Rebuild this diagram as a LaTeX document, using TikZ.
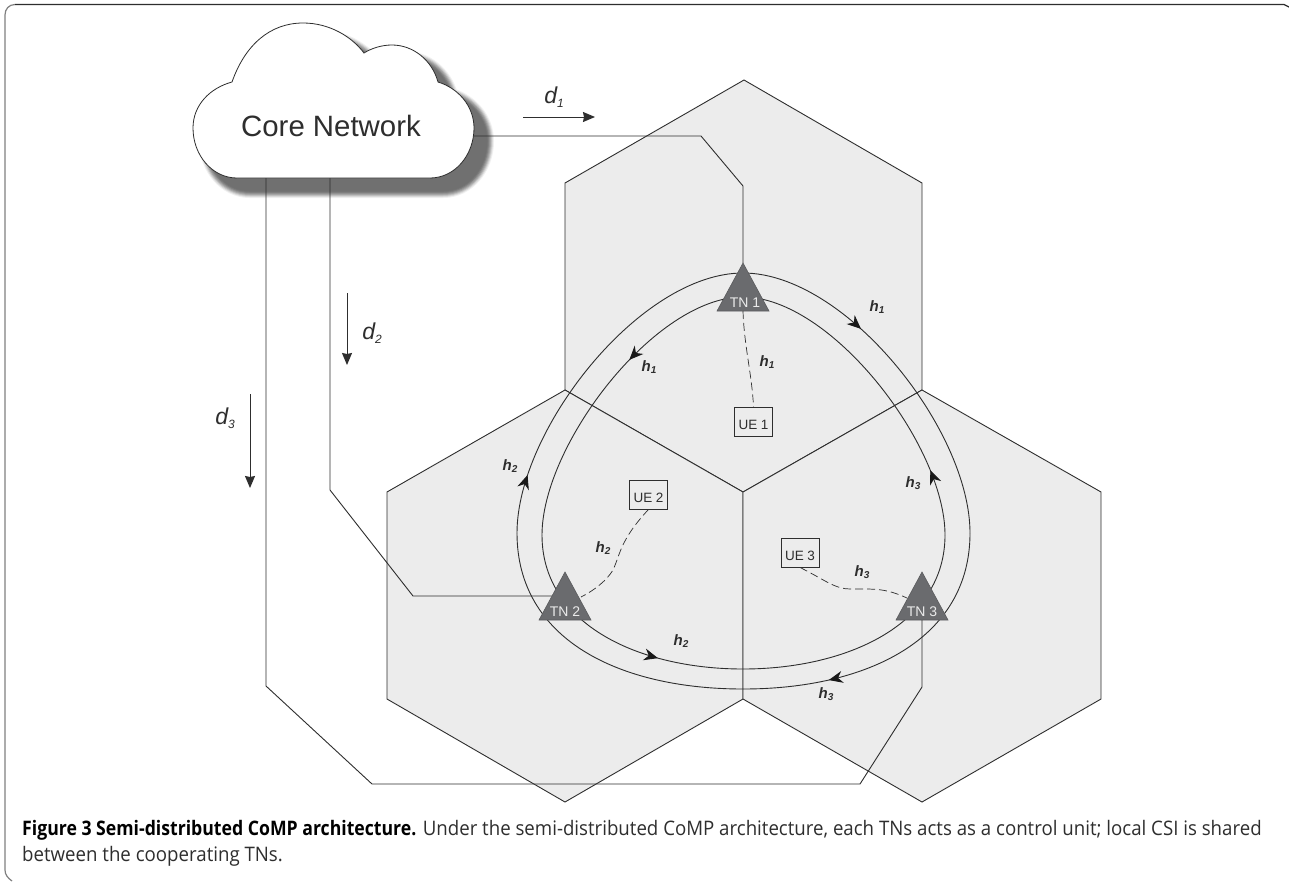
\documentclass[tikz,border=0pt]{standalone}
\usepackage{fontspec}
\setmainfont{Liberation Sans}
\newfontfamily\capfont[FakeStretch=0.933]{Open Sans}
\newfontfamily\capbold[FakeStretch=0.883]{Open Sans Bold}
\usetikzlibrary{arrows.meta,decorations.markings}
\definecolor{hexfill}{HTML}{ECECEC}
\definecolor{linec}{HTML}{2E2E2E}
\definecolor{trifill}{HTML}{6A6B6E}
\newcommand\hlab[1]{h\raisebox{-2.5pt}{\fontsize{10}{10}\selectfont #1}}
\newcommand\dlab[1]{d\raisebox{-3.5pt}{\fontsize{12}{12}\selectfont #1}}
\def\cloudpath{(232,82) .. controls (245,45) and (270,23) .. (303,23) .. controls (330,23) and (352,37) .. (364,53) .. controls (372,48) and (382,45) .. (392,45) .. controls (413,45) and (432,60) .. (438,82) .. controls (458,88) and (474,106) .. (474,128) .. controls (474,155) and (455,178) .. (430,178) -- (237,178) .. controls (212,178) and (193,155) .. (193,128) .. controls (193,105) and (210,88) .. (232,82) -- cycle}
\tikzset{
  x=1pt,y=-1pt,
  hexcell/.style={fill=hexfill,draw=linec,line width=0.9pt},
  conn/.style={draw=linec,line width=0.9pt},
  loopline/.style={draw=linec,line width=0.9pt,line join=round},
  flowarrow/.style={draw=linec,line width=1pt,-{Stealth[length=12pt,width=10pt,inset=1pt]}},
  tntri/.style={fill=trifill,draw=trifill!85!black,line width=0.6pt},
  tntext/.style={text=white!92!black,font=\fontsize{14}{14}\selectfont,inner sep=0pt},
  uebox/.style={draw=linec,fill=hexfill,line width=0.9pt,minimum width=38pt,minimum height=29pt,inner sep=0pt,font=\fontsize{13.5}{14}\selectfont,text height=19pt,text depth=3pt,text=linec},
  ctrl/.style={draw=linec,line width=0.7pt,dash pattern=on 8pt off 4pt},
  hlabel/.style={font=\fontsize{15}{15}\selectfont\bfseries\itshape,text=linec,inner sep=0pt},
  dlabel/.style={font=\fontsize{23}{23}\selectfont\itshape,text=linec,inner sep=0pt},
  headat/.style={postaction={decorate,decoration={markings,mark=at position #1 with {\arrow[fill=black!90,draw=black!90]{Stealth[length=14pt,width=12pt]}}}}},
}
\begin{document}
\begin{tikzpicture}
\useasboundingbox (0,0) rectangle (1289,881);
\fill[white] (0,0) rectangle (1289,881);
\draw[draw=gray,line width=1.2pt] (12,881) .. controls (8,878) and (5,875) .. (5,870) -- (5,15) .. controls (5,9) and (9,4.5) .. (15,4.5);
\draw[draw=linec,line width=1.2pt] (15,4.5) -- (1284,4.5) -- (1289,7);
% hexagons
\draw[hexcell] (744,80) -- (922,183) -- (922,390) -- (743,492) -- (565,390) -- (565,183) -- cycle;
\draw[hexcell] (565,390) -- (743,492) -- (743,699) -- (565,802) -- (387,699) -- (387,492) -- cycle;
\draw[hexcell] (922,390) -- (1101,492) -- (1101,699) -- (922,802) -- (743,699) -- (743,492) -- cycle;
% cloud shadow
\foreach \w/\g in {14/6,12/14,10/24,8/34,6/42,4/50,2/54,0.1/56}{
  \path[fill=black!\g,draw=black!\g,line width=\w pt,shift={(13,13)}] \cloudpath;
}
\path[fill=white,draw=linec,line width=0.8pt] \cloudpath;
\node[font=\fontsize{29.4}{30}\selectfont,text=linec,inner sep=0pt] (core) at (331,126) {Core Network};
% named points
\coordinate (cE) at (474,136);
\coordinate (cS2) at (330,178);
\coordinate (cS3) at (266,178);
\coordinate (b1a) at (701,136);
\coordinate (b1b) at (743,186);
\coordinate (b2a) at (330,490);
\coordinate (b2b) at (413,596);
\coordinate (b3a) at (266,686);
\coordinate (b3b) at (372,784);
\coordinate (b3c) at (860,784);
\coordinate (b3d) at (922,687);
\coordinate (tn1a) at (743,263);
\coordinate (tn2w) at (553,596);
\coordinate (tn3b) at (922,620);
% loops
\draw[loopline,headat=0.36] (743,273) .. controls (846,273) and (970,430) .. (970,533);
\draw[loopline,headat=0.72] (970,533) .. controls (970,640) and (866,689) .. (743,689);
\draw[loopline,headat=0.16] (517,533) .. controls (517,430) and (640,273) .. (743,273);
\draw[loopline] (743,689) .. controls (620,689) and (517,640) .. (517,533);
\draw[loopline,headat=0.4] (743,297) .. controls (655,297) and (542,445) .. (542,535);
\draw[loopline,headat=0.68] (542,535) .. controls (542,625) and (640,669) .. (743,669);
\draw[loopline] (743,669) .. controls (846,669) and (945,625) .. (945,535);
\draw[loopline,headat=0.2] (945,535) .. controls (945,445) and (831,297) .. (743,297);
% connectors
\draw[conn] (cE) -- (b1a) -- (b1b) -- (tn1a);
\draw[conn] (cS2) -- (b2a) -- (b2b) -- (tn2w);
% TNs
\draw[tntri] (743,263) -- (769,311) -- (717,311) -- cycle;
\draw[tntri] (565,572) -- (591,620) -- (539,620) -- cycle;
\draw[tntri] (922,572) -- (948,620) -- (896,620) -- cycle;
\node[tntext] (tn1) at (745,303) {TN 1};
\node[tntext] (tn2) at (565,612) {TN 2};
\node[tntext] (tn3) at (922,612) {TN 3};
\draw[conn] (cS3) -- (b3a) -- (b3b) -- (b3c) -- (b3d) -- (tn3b);
% UEs
\node[uebox] (ue1) at (753.5,421.5) {UE 1};
\node[uebox] (ue2) at (648.5,494.5) {UE 2};
\node[uebox] (ue3) at (800,552.5) {UE 3};
% dashed
\coordinate (tn1s) at (743,311);
\coordinate (tn2e) at (581,597);
\coordinate (tn3w) at (907,598);
\draw[ctrl] (tn1s) .. controls (744,345) and (752,375) .. (ue1.north);
\draw[ctrl] (ue2.south) .. controls (620,540) and (620,555) .. (613,570) .. controls (607,580) and (595,590) .. (tn2e);
\draw[ctrl] (ue3.south) .. controls (825,580) and (835,589) .. (850,589) .. controls (875,589) and (885,588) .. (tn3w);
% flow arrows
\coordinate (d1s) at (523,117); \coordinate (d1e) at (595,117);
\coordinate (d2s) at (347,293); \coordinate (d2e) at (347,365);
\coordinate (d3s) at (250,394); \coordinate (d3e) at (250,488);
\draw[flowarrow] (d1s) -- (d1e);
\draw[flowarrow] (d2s) -- (d2e);
\draw[flowarrow] (d3s) -- (d3e);
\node[dlabel] (ld1) at (554,97) {\dlab{1}};
\node[dlabel] (ld2) at (372,333) {\dlab{2}};
\node[dlabel] (ld3) at (225,418) {\dlab{3}};
% h labels
\node[hlabel] (h1a) at (877,307) {\hlab{1}};
\node[hlabel] (h1b) at (649,367) {\hlab{1}};
\node[hlabel] (h1c) at (767,362) {\hlab{1}};
\node[hlabel] (h2a) at (510,466) {\hlab{2}};
\node[hlabel] (h3a) at (913,483) {\hlab{3}};
\node[hlabel] (h2b) at (603,548) {\hlab{2}};
\node[hlabel] (h3b) at (862,572) {\hlab{3}};
\node[hlabel] (h2c) at (681,641) {\hlab{2}};
\node[hlabel] (h3c) at (826,694) {\hlab{3}};
% caption
\node[anchor=base west,inner sep=0pt,text=linec,font=\capfont\fontsize{20}{20}\selectfont] (cap) at (22,835) {{\capbold\color{black}Figure 3 Semi-distributed CoMP architecture.} Under the semi-distributed CoMP architecture, each TNs acts as a control unit; local CSI is shared};
\node[anchor=base west,inner sep=0pt,text=linec,font=\capfont\fontsize{20}{20}\selectfont] (cap2) at (22,861) {between the cooperating TNs.};
\end{tikzpicture}
\end{document}
